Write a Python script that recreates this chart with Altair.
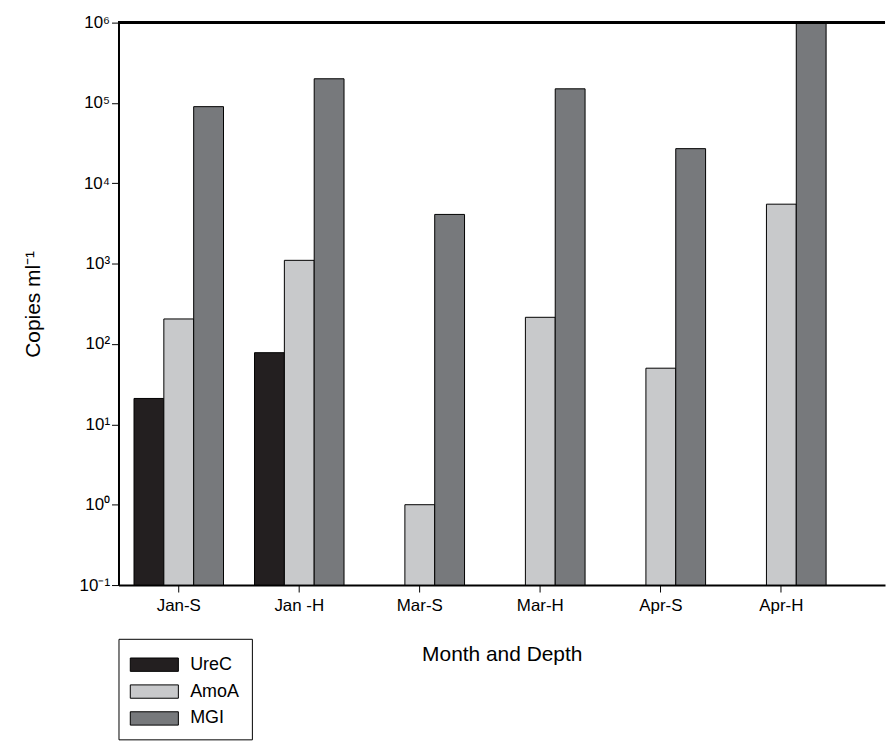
import altair as alt
import pandas as pd

groups = ["Jan-S", "Jan -H", "Mar-S", "Mar-H", "Apr-S", "Apr-H"]
genes = ["UreC", "AmoA", "MGI"]
urec = [21, 78, None, None, None, None]
amoa = [205, 1100, 1.0, 215, 50, 5500]
mgi = [90000, 200000, 4100, 150000, 27000, 1000000]

rows = []
for i, g in enumerate(groups):
    for gene, vals in zip(genes, [urec, amoa, mgi]):
        if vals[i] is not None:
            rows.append({"group": g, "gene": gene, "value": vals[i], "base": 0.1})
df = pd.DataFrame(rows)

font = "Arial"
tick_vals = [0.1, 1, 10, 100, 1000, 10000, 100000, 1000000]
tick_text = ["10⁻¹", "10⁰", "10¹", "10²", "10³", "10⁴", "10⁵", "10⁶"]
label_expr = "{" + ",".join(f"'{v}':'{t}'" for v, t in zip(tick_vals, tick_text)) + "}[datum.value]"

bars = alt.Chart(df).mark_bar(stroke="black", strokeWidth=1).encode(
    x=alt.X("group:N", sort=groups, title="Month and Depth",
            scale=alt.Scale(paddingInner=0, paddingOuter=0.18, align=0),
            axis=alt.Axis(labelAngle=0, labelFontSize=17, titleFontSize=21, titleFont=font,
                          labelFont=font, labelColor="black", titleColor="black",
                          titleFontWeight="normal", titlePadding=30, domainColor="black",
                          domainWidth=2, tickColor="black", tickSize=7, labelPadding=6)),
    xOffset=alt.XOffset("gene:N", sort=genes, scale=alt.Scale(paddingOuter=0.52, paddingInner=0)),
    y=alt.Y("value:Q", title="Copies ml⁻¹",
            scale=alt.Scale(type="log", domain=[0.1, 1000000]),
            axis=alt.Axis(values=tick_vals, labelExpr=label_expr, grid=False,
                          labelFontSize=17, titleFontSize=21,
                          labelFont=font, titleFont=font, labelColor="black", titleColor="black",
                          titleFontWeight="normal", domainColor="black", domainWidth=2,
                          tickColor="black", tickSize=7, titlePadding=36)),
    y2="base:Q",
    color=alt.Color("gene:N", sort=genes,
                    scale=alt.Scale(domain=genes, range=["#231f20", "#c8c9cb", "#77797c"]),
                    legend=alt.Legend(title=None, orient="none", legendX=0, legendY=619,
                                      symbolType="M-1.8,-0.5H1.8V0.5H-1.8Z", symbolSize=720,
                                      symbolStrokeColor="black", symbolStrokeWidth=1,
                                      symbolOffset=10, labelOffset=22,
                                      labelFontSize=18, labelFont=font, labelColor="black",
                                      strokeColor="black", padding=12, rowPadding=4,
                                      offset=0)),
)

top = alt.Chart(df).mark_rule(color="black", strokeWidth=2).encode(y=alt.value(0))

chart = alt.layer(bars, top).properties(
    width=770, height=565, padding={"left": 14, "top": 4, "right": 0, "bottom": 5}
).configure_view(stroke=None)

chart.save("out.html", embed_options={"renderer": "svg", "actions": False})
